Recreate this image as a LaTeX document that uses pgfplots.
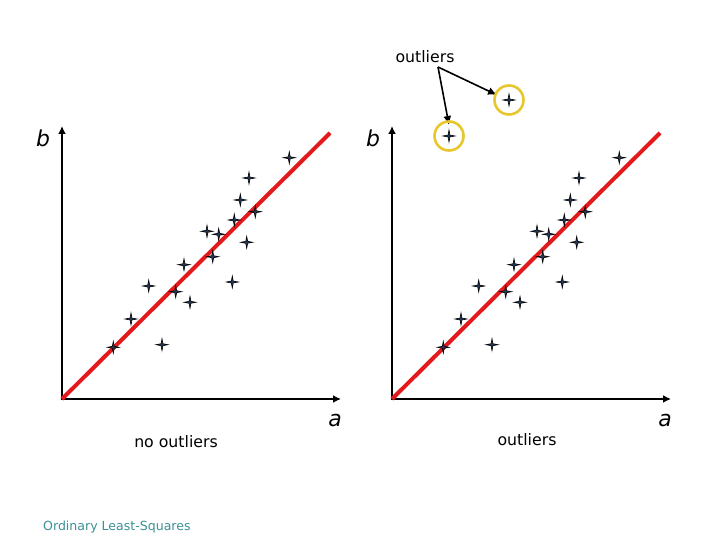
\documentclass[border=0pt]{standalone}
\usepackage{pgfplots}
\pgfplotsset{compat=1.18}
\usepackage{fontspec}
\setmainfont{DejaVu Sans}
\usetikzlibrary{arrows.meta}
\definecolor{ptfill}{HTML}{2A3A5C}
\definecolor{olsred}{HTML}{E3191B}
\definecolor{ring}{HTML}{E8C62E}
\definecolor{teal2}{HTML}{3A9096}
\pgfdeclareplotmark{fourstar}{%
  \pgfpathmoveto{\pgfqpoint{0pt}{\pgfplotmarksize}}%
  \pgfpathlineto{\pgfqpoint{0.16\pgfplotmarksize}{0.16\pgfplotmarksize}}%
  \pgfpathlineto{\pgfqpoint{\pgfplotmarksize}{0pt}}%
  \pgfpathlineto{\pgfqpoint{0.16\pgfplotmarksize}{-0.16\pgfplotmarksize}}%
  \pgfpathlineto{\pgfqpoint{0pt}{-\pgfplotmarksize}}%
  \pgfpathlineto{\pgfqpoint{-0.16\pgfplotmarksize}{-0.16\pgfplotmarksize}}%
  \pgfpathlineto{\pgfqpoint{-\pgfplotmarksize}{0pt}}%
  \pgfpathlineto{\pgfqpoint{-0.16\pgfplotmarksize}{0.16\pgfplotmarksize}}%
  \pgfpathclose
  \pgfusepathqfillstroke}
\pgfplotstableread{
x y
227.3 241.3
187 221
178.3 199
193.3 187.3
172.3 179
145 167.7
156.7 164.7
184.7 156.7
150.7 142.3
122 134.3
170.3 117
86.7 113
113.7 107.3
128 96.7
69 80
100 54.3
51.3 51.7
}\pts
\pgfplotstableread{
x y
57 263
117 299
}\outl
\tikzset{axarrow/.style={line width=2.8bp, -{Latex[length=8bp,width=8bp]}}}
\pgfplotsset{
  olsaxis/.style={
    scale only axis, width=278bp, height=272bp,
    xmin=0, xmax=278, ymin=0, ymax=272,
    axis lines=none, xtick=\empty, ytick=\empty,
    clip=false,
  },
  ptstyle/.style={only marks, mark=fourstar, mark size=6bp,
    mark options={fill=ptfill, draw=black, line width=0.6bp}},
}
\begin{document}
\begin{tikzpicture}
\useasboundingbox (0,0) rectangle (720bp,540bp);
\begin{axis}[olsaxis, at={(62bp,141bp)}, anchor=south west]
\draw[axarrow] (axis cs:-1.4,0) -- (axis cs:279,0);
\draw[axarrow] (axis cs:0,-1.4) -- (axis cs:0,273);
\addplot[olsred, line width=4bp] coordinates {(0,0) (268,266)};
\addplot[ptstyle] table[x=x,y=y] {\pts};
\node[font=\fontsize{22}{24}\selectfont\itshape] at (axis cs:-19,261) {b};
\node[font=\fontsize{22}{24}\selectfont\itshape] at (axis cs:273,-22) {a};
\node[font=\fontsize{15.8}{18}\selectfont] at (axis cs:114,-43) {no outliers};
\node[font=\fontsize{12.6}{15}\selectfont, text=teal2, anchor=west, inner sep=0pt] at (axis cs:-19,-128) {Ordinary Least-Squares};
\end{axis}
\begin{axis}[olsaxis, at={(392bp,141bp)}, anchor=south west]
\draw[axarrow] (axis cs:-1.4,0) -- (axis cs:279,0);
\draw[axarrow] (axis cs:0,-1.4) -- (axis cs:0,273);
\addplot[olsred, line width=4bp] coordinates {(0,0) (268,266)};
\addplot[ptstyle] table[x=x,y=y] {\pts};
\addplot[ptstyle] table[x=x,y=y] {\outl};
\addplot[only marks, mark=o, mark size=14.5bp, mark options={draw=ring, line width=2.6bp}] table[x=x,y=y] {\outl};
\node[font=\fontsize{22}{24}\selectfont\itshape] at (axis cs:-19,261) {b};
\node[font=\fontsize{22}{24}\selectfont\itshape] at (axis cs:273,-22) {a};
\node[font=\fontsize{15.8}{18}\selectfont] at (axis cs:135,-41) {outliers};
\node[font=\fontsize{15.8}{18}\selectfont] at (axis cs:33,342) {outliers};
\draw[line width=1.6bp, -{Latex[length=9bp,width=8bp]}] (axis cs:46,332) -- (axis cs:57,274);
\draw[line width=1.6bp, -{Latex[length=9bp,width=8bp]}] (axis cs:46,332) -- (axis cs:105,304);
\end{axis}
\end{tikzpicture}
\end{document}
